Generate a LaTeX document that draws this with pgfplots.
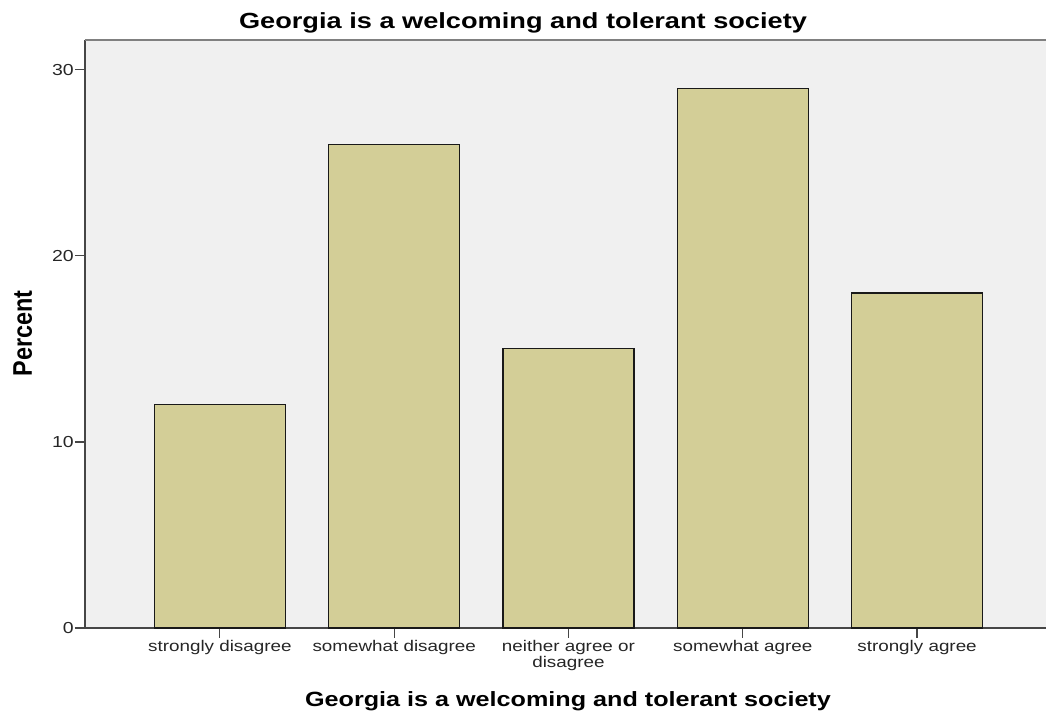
\documentclass[border=0pt]{standalone}
\usepackage{pgfplots}
\pgfplotsset{compat=1.18}
\usepackage{fontspec}
\setmainfont{Liberation Sans}
\definecolor{plotbg}{RGB}{240,240,240}
\definecolor{barfill}{RGB}{211,206,151}
\definecolor{axline}{RGB}{70,70,70}
% text in the reference is stretched sideways
\newcommand\sx[1]{\scalebox{1.22}[1]{#1}}
\begin{document}
\begin{tikzpicture}[x=1bp,y=1bp]
\useasboundingbox (-85,-86) rectangle (961,628);
\begin{axis}[
  at={(0,0)}, anchor=south west,
  scale only axis, width=961bp, height=588bp,
  xmin=-0.774, xmax=4.74, ymin=0, ymax=31.6,
  axis background/.style={fill=plotbg},
  axis x line*=bottom, axis y line*=left,
  x axis line style={-, draw=axline, line width=1.5bp},
  y axis line style={-, draw=axline, line width=1.5bp},
  tick align=outside, major tick length=10bp,
  tick style={draw=axline, line width=1.2bp},
  xtick={0,1,2,3,4},
  xticklabels={\sx{strongly disagree},\sx{somewhat disagree},\sx{neither agree or}\\\sx{disagree},\sx{somewhat agree},\sx{strongly agree}},
  xticklabel style={align=center, font=\fontsize{15.5}{16}\selectfont, text=black!85, inner sep=2bp},
  ytick={0,10,20,30},
  yticklabel={\sx{\pgfmathprintnumber[assume math mode=true]{\tick}}},
  yticklabel style={font=\fontsize{16}{16}\selectfont, text=black!85, inner sep=1bp},
  clip=false,
]
\addplot[ybar, bar width=131bp, fill=barfill, draw=black!90, line width=1.2bp]
  coordinates {(0,12) (1,26) (2,15) (3,29) (4,18)};
\draw[draw=gray, line width=1.2bp] (rel axis cs:0,1) -- (rel axis cs:1,1);
\end{axis}
\node[anchor=base, font=\fontsize{22}{22}\selectfont\bfseries] at (438,599)
  {\scalebox{1.24}[1]{Georgia is a welcoming and tolerant society}};
\node[anchor=base, font=\fontsize{20.7}{21}\selectfont\bfseries] at (483,-79)
  {\sx{Georgia is a welcoming and tolerant society}};
\node[anchor=base, rotate=90, font=\fontsize{23.5}{24}\selectfont\bfseries] at (-53,294.5)
  {\scalebox{1}[1.15]{Percent}};
\end{tikzpicture}
\end{document}
